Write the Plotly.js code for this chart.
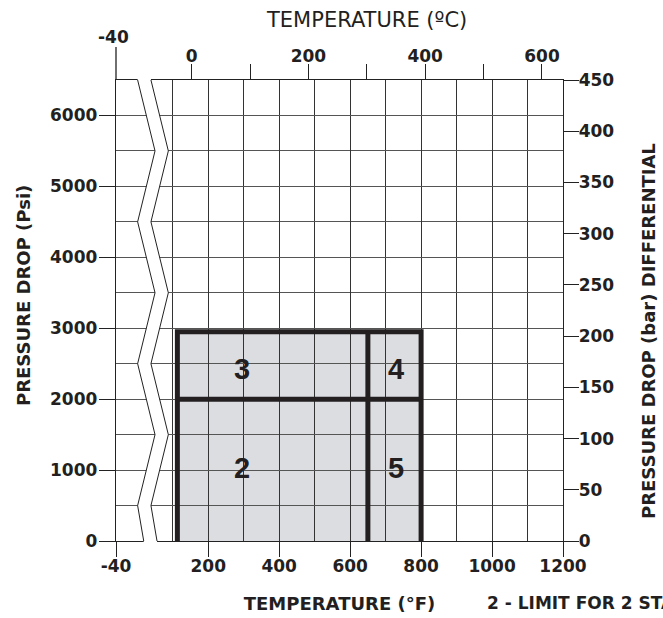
<!DOCTYPE html>
<html>
<head>
<meta charset="utf-8">
<script src="https://cdn.plot.ly/plotly-3.0.1.min.js"></script>
<style>html,body{margin:0;padding:0;background:#fff;}#chart{width:663px;height:618px;}</style>
</head>
<body>
<div id="chart"></div>
<script>
// ---- data ----
const tempAxisStartF = -60;               // left border of the (broken) °F axis
const tempAxisEndF = 1200;
const tempTickLabelsF = ["-40", "200", "400", "600", "800", "1000", "1200"];
const tempTickValsF = [tempAxisStartF, 200, 400, 600, 800, 1000, 1200];
const tempGridF = [100, 300, 500, 700, 900, 1100];

const tempAxisRangeC = [-129.6, 636];
const tempTickValsC = [0, 100, 200, 300, 400, 500, 600];
const tempTickLabelsC = ["0", "", "200", "", "400", "", "600"];

const pressureMaxPsi = 6500;
const pressureTicksPsi = [0, 1000, 2000, 3000, 4000, 5000, 6000];
const pressureGridPsi = [500, 1500, 2500, 3500, 4500, 5500, 6500];

const pressureMaxBar = 450;
const pressureTicksBar = [0, 50, 100, 150, 200, 250, 300, 350, 400, 450];

// limits of the operating regions
const limitTempF = [113, 650, 800];       // left edge, stage split, right edge
const limitPressurePsi = [2000, 2950];    // stage split, top edge

const regionNames = ["2", "3", "4", "5"];
const regionLabelTempF = [295, 295, 728, 728];
const regionLabelPsi = [1030, 2430, 2430, 1030];

// axis break symbol (zig-zag) vertices, in 500 psi steps
const breakPsi = [6500, 5500, 4500, 3500, 2500, 1500, 500, 0];
const breakSide = [0, 1, 0, 1, 0, 1, 0, 0.35];
const breakLeftF = [1, 50];
const breakGapF = 37.5;

// ---- drawing ----
const ink = '#231f20';
const M = {l: 116, r: 100, t: 80, b: 77};
const plotW = 663 - M.l - M.r;
const plotH = 618 - M.t - M.b;
const px = (xp) => (xp - M.l) / plotW;          // page x -> paper x
const py = (yp) => (618 - M.b - yp) / plotH;    // page y -> paper y

const [tL, tS, tR] = limitTempF;
const [pS, pT] = limitPressurePsi;
const thick = {
  type: 'scatter', mode: 'lines', xaxis: 'x', yaxis: 'y',
  x: [tL, tL, tR, tR, null, tL, tR, null, tS, tS],
  y: [0, pT, pT, 0, null, pS, pS, null, 0, pT],
  line: {color: ink, width: 5}, hoverinfo: 'skip'
};
const dummyTop = {type: 'scatter', mode: 'markers', xaxis: 'x2', yaxis: 'y',
  x: [tempTickValsC[0]], y: [0], marker: {opacity: 0}, hoverinfo: 'skip'};
const dummyRight = {type: 'scatter', mode: 'markers', xaxis: 'x', yaxis: 'y2',
  x: [tempTickValsF[1]], y: [pressureTicksBar[0]], marker: {opacity: 0}, hoverinfo: 'skip'};

function breakX(i, offset) {
  return breakLeftF[0] + breakSide[i] * (breakLeftF[1] - breakLeftF[0]) + offset;
}
function pathOf(offset) {
  return breakPsi.map((p, i) => (i ? 'L' : 'M') + breakX(i, offset) + ',' + (p / pressureMaxPsi)).join(' ');
}
const leftPts = breakPsi.map((p, i) => [breakX(i, 0), p / pressureMaxPsi]);
const rightPts = breakPsi.map((p, i) => [breakX(i, breakGapF), p / pressureMaxPsi]).reverse();
const eps = 0.012;
const poly = [[leftPts[0][0], 1 + eps], ...leftPts, [leftPts[leftPts.length - 1][0], -eps],
  [rightPts[0][0], -eps], ...rightPts, [rightPts[rightPts.length - 1][0], 1 + eps]];
const polyPath = poly.map((q, i) => (i ? 'L' : 'M') + q[0] + ',' + q[1]).join(' ') + ' Z';

const shapes = [
  {type: 'rect', xref: 'x', yref: 'y', x0: tL, x1: tR, y0: 0, y1: pT,
   fillcolor: '#dcdde0', line: {width: 0}, layer: 'below'},
  {type: 'path', xref: 'x', yref: 'paper', path: polyPath, fillcolor: '#ffffff',
   line: {width: 0}, layer: 'above'},
  {type: 'path', xref: 'x', yref: 'paper', path: pathOf(0), line: {color: '#222', width: 1}, layer: 'above'},
  {type: 'path', xref: 'x', yref: 'paper', path: pathOf(breakGapF), line: {color: '#222', width: 1}, layer: 'above'},
  {type: 'line', xref: 'paper', yref: 'paper', x0: 0, x1: 0, y0: 1, y1: 1 + 33 / plotH,
   line: {color: '#222', width: 1.3}}
];

const bold17 = {family: 'DejaVu Sans', size: 17, weight: 'bold', color: ink};
const bold18 = {family: 'DejaVu Sans', size: 18, weight: 'bold', color: ink};
const annotations = regionNames.map((n, i) => ({
  xref: 'x', yref: 'y', x: regionLabelTempF[i], y: regionLabelPsi[i], text: n, showarrow: false,
  xanchor: 'center', yanchor: 'middle',
  font: {family: 'Liberation Sans', size: 29, weight: 'bold', color: ink}
}));
function pageNote(text, xp, yp, font, extra) {
  return Object.assign({xref: 'paper', yref: 'paper', x: px(xp), y: py(yp), text: text,
    showarrow: false, xanchor: 'center', yanchor: 'middle', font: font}, extra || {});
}
annotations.push(
  pageNote('TEMPERATURE (ºC)', 366, 20, {family: 'DejaVu Sans', size: 21, color: ink}),
  pageNote('-40', 113, 37, bold17),
  pageNote('PRESSURE DROP (Psi)', 23, 296, bold18, {textangle: -90}),
  pageNote('PRESSURE DROP (bar) DIFFERENTIAL', 648, 331, bold18, {textangle: -90}),
  pageNote('2 - LIMIT FOR 2 STAGES', 485, 603, bold17, {xanchor: 'left'})
);

const layout = {
  width: 663, height: 618, margin: {l: M.l, r: M.r, t: M.t, b: M.b, pad: 0},
  paper_bgcolor: '#ffffff', plot_bgcolor: '#ffffff', showlegend: false,
  font: {family: 'DejaVu Sans', color: ink},
  xaxis: {
    range: [tempAxisStartF, tempAxisEndF], tickmode: 'array', tickvals: tempTickValsF, ticktext: tempTickLabelsF,
    ticks: 'outside', ticklen: 15, tickwidth: 1, tickcolor: '#222', ticklabelstandoff: -6,
    showline: true, linecolor: '#222', linewidth: 1.3, zeroline: false,
    showgrid: true, gridcolor: '#333', gridwidth: 1,
    minor: {tickmode: 'array', tickvals: tempGridF, showgrid: true, gridcolor: '#333', gridwidth: 1, ticks: ''},
    tickfont: bold17,
    title: {text: 'TEMPERATURE (°F)', font: bold18, standoff: 22}
  },
  xaxis2: {
    overlaying: 'x', side: 'top', anchor: 'y', range: tempAxisRangeC,
    tickmode: 'array', tickvals: tempTickValsC, ticktext: tempTickLabelsC,
    ticks: 'outside', ticklen: 15, tickwidth: 1, tickcolor: '#222', ticklabelstandoff: -5,
    showline: true, linecolor: '#222', linewidth: 1.3, showgrid: false, zeroline: false,
    tickfont: bold17
  },
  yaxis: {
    range: [0, pressureMaxPsi], tickmode: 'array', tickvals: pressureTicksPsi,
    ticks: 'outside', ticklen: 16, tickwidth: 1, tickcolor: '#222', ticklabelstandoff: -2,
    showline: true, linecolor: '#222', linewidth: 1.3, zeroline: false,
    showgrid: true, gridcolor: '#555', gridwidth: 1,
    minor: {tickmode: 'array', tickvals: pressureGridPsi, showgrid: true, gridcolor: '#555', gridwidth: 1, ticks: ''},
    tickfont: bold17
  },
  yaxis2: {
    overlaying: 'y', side: 'right', anchor: 'x', range: [0, pressureMaxBar],
    tickmode: 'array', tickvals: pressureTicksBar,
    ticks: 'outside', ticklen: 15, tickwidth: 1, tickcolor: '#222', ticklabelstandoff: -4,
    showline: true, linecolor: '#222', linewidth: 1.3, showgrid: false, zeroline: false,
    tickfont: bold17
  },
  shapes: shapes,
  annotations: annotations
};

Plotly.newPlot('chart', [thick, dummyTop, dummyRight], layout, {staticPlot: true, displayModeBar: false});
</script>
</body>
</html>
